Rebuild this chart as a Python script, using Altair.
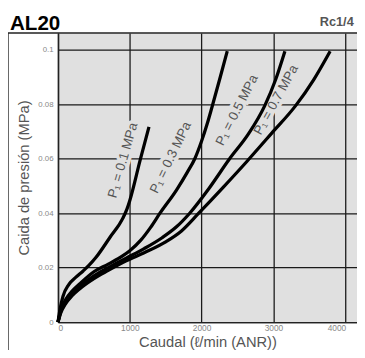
import altair as alt
import pandas as pd

# ---- data ----
series_names = ["0.1", "0.3", "0.5", "0.7"]

p01_x = [0, 30, 70, 150, 250, 350, 430, 530, 720, 900, 960, 1000, 1144, 1267]
p01_y = [0, 0.005, 0.0095, 0.0138, 0.0165, 0.0188, 0.0208, 0.0238, 0.031, 0.038, 0.0415, 0.0447, 0.0595, 0.0717]

p03_x = [0, 40, 100, 200, 300, 500, 700, 900, 1000, 1150, 1290, 1420, 1650, 1800, 1905, 2000, 2080, 2145, 2260, 2357]
p03_y = [0, 0.0045, 0.008, 0.0115, 0.014, 0.0185, 0.0213, 0.0243, 0.0262, 0.030, 0.0348, 0.040, 0.0485, 0.055, 0.060, 0.0665, 0.073, 0.079, 0.090, 0.0995]

p05_x = [0, 40, 100, 200, 300, 500, 700, 950, 1200, 1450, 1650, 1834, 2100, 2390, 2650, 2880, 3030, 3160]
p05_y = [0, 0.004, 0.007, 0.0105, 0.013, 0.017, 0.020, 0.0235, 0.027, 0.031, 0.035, 0.040, 0.049, 0.060, 0.069, 0.0795, 0.089, 0.0995]

p07_x = [0, 40, 100, 200, 300, 500, 700, 950, 1200, 1500, 1720, 1960, 2300, 2630, 2980, 3310, 3560, 3790]
p07_y = [0, 0.0035, 0.0065, 0.0098, 0.0122, 0.016, 0.019, 0.0225, 0.0255, 0.0295, 0.0335, 0.040, 0.0495, 0.059, 0.0695, 0.0795, 0.089, 0.0995]

label_text = ["P\u2081 = 0.1 MPa", "P\u2081 = 0.3 MPa", "P\u2081 = 0.5 MPa", "P\u2081 = 0.7 MPa"]
label_x = [905, 1571, 2493, 3038]
label_y = [0.0594, 0.0604, 0.0778, 0.0816]
label_angle = [286, 296, 297, 299]

x_ticks = [0, 1000, 2000, 3000, 4000]
y_ticks = [0, 0.02, 0.04, 0.06, 0.08, 0.1]

# ---- tables ----
rows = []
for name, xs, ys in zip(series_names, [p01_x, p03_x, p05_x, p07_x], [p01_y, p03_y, p05_y, p07_y]):
    for i, (xv, yv) in enumerate(zip(xs, ys)):
        rows.append({"serie": name, "caudal": xv, "caida": yv, "orden": i})
df = pd.DataFrame(rows)

lab_df = pd.DataFrame({"texto": label_text, "caudal": label_x, "caida": label_y, "ang": label_angle})

W, H = 305, 295
BG = "#e0e0e0"
FONT = "Liberation Sans"

x_enc = alt.X("caudal:Q", scale=alt.Scale(domain=[0, 4164], nice=False),
              axis=alt.Axis(values=x_ticks, format="d", title="Caudal (\u2113/min (ANR))",
                            labelPadding=2, titlePadding=2,
                            labelOffset={"condition": {"test": "datum.value == 4000", "value": -9}, "value": 0}))
y_enc = alt.Y("caida:Q", scale=alt.Scale(domain=[0, 0.1062], nice=False),
              axis=alt.Axis(values=y_ticks, format="~g", title="Caida de presión (MPa)",
                            labelPadding=5, titlePadding=6))

lines = alt.Chart(df).mark_line(color="black", strokeWidth=3.3, interpolate="monotone").encode(
    x=x_enc, y=y_enc, detail="serie:N", order="orden:Q")

mask = alt.Chart(lab_df).mark_text(font=FONT, fontSize=13.5, align="center", baseline="middle",
                                   color=BG, stroke=BG, strokeWidth=7).encode(
    x="caudal:Q", y="caida:Q", text="texto:N", angle=alt.Angle("ang:Q", scale=None))

labels = alt.Chart(lab_df).mark_text(font=FONT, fontSize=13.5, align="center", baseline="middle",
                                     color="#555").encode(
    x="caudal:Q", y="caida:Q", text="texto:N", angle=alt.Angle("ang:Q", scale=None))

one = pd.DataFrame({"k": [0]})
frame_left = alt.Chart(one).mark_rule(color="#333", strokeWidth=1.5).encode(
    x=alt.value(-51), y=alt.value(0), y2=alt.value(330))
frame_top = alt.Chart(one).mark_rule(color="#222", strokeWidth=1.5).encode(
    x=alt.value(-51), x2=alt.value(W), y=alt.value(0))
title_txt = alt.Chart(one).mark_text(text="AL20", font=FONT, fontSize=21, fontWeight="bold", color="black",
                                     align="left", baseline="alphabetic").encode(
    x=alt.value(-49), y=alt.value(-3))
rc = alt.Chart(one).mark_text(text="Rc1/4", font=FONT, fontSize=13, fontWeight="bold", color="#555",
                              align="left", baseline="alphabetic").encode(
    x=alt.value(267), y=alt.value(-7))

chart = alt.layer(mask, lines, labels, frame_left, frame_top, title_txt, rc).properties(
    width=W, height=H,
    padding={"left": 51, "top": 22, "right": 0, "bottom": 25},
    autosize=alt.AutoSizeParams(type="none"),
).configure_view(fill=BG, stroke="transparent").configure_axis(
    domainColor="#222", domainWidth=1.5, gridColor="#1a1a1a", gridWidth=1.3, grid=True,
    ticks=False, labelFont=FONT, labelFontSize=8, labelColor="#888",
    titleFont=FONT, titleFontSize=15, titleFontWeight="normal", titleColor="#555"
).configure_axisX(labelFontSize=8.5)

chart.save("out.html", embed_options={"renderer": "svg", "actions": False})
